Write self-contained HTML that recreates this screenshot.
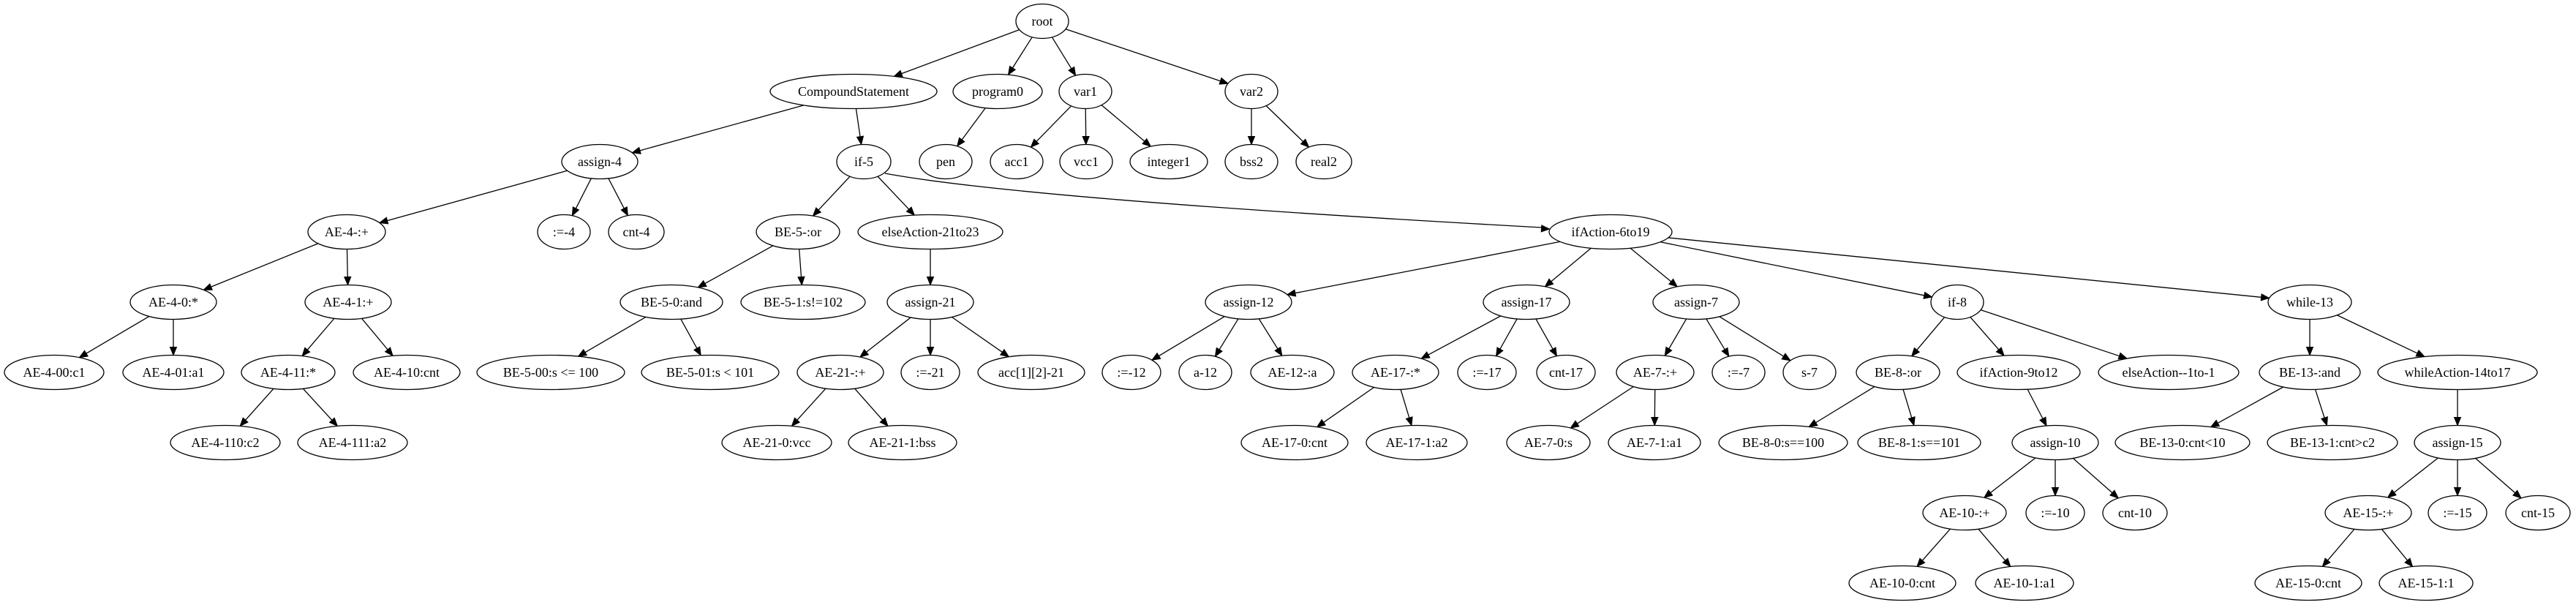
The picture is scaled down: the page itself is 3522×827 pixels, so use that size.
<!DOCTYPE html>
<html><head><meta charset="utf-8"><style>
html,body{margin:0;padding:0;background:#fff;}
svg{display:block;}
text{font-family:"Liberation Serif","Times New Roman",serif;font-size:18px;fill:#000;}
</style></head><body>
<svg id="g" xmlns="http://www.w3.org/2000/svg" width="3522" height="827" viewBox="0 0 3522 827">
<rect width="3522" height="827" fill="#fff"/>
<g id="edges" stroke="#000" stroke-width="1.3" fill="none"></g>
<g id="arrows" fill="#000" stroke="#000" stroke-width="1"></g>
<g id="nodes" fill="#fff" stroke="#000" stroke-width="1.3"></g>
<g id="labels" text-anchor="middle"></g>
</svg>
<script>
var Y=[29,125,221,317,413,509,605,701,797];
var N={
root:[1425,0,36,"root"],
CS:[1167,1,114,"CompoundStatement"],
program0:[1364,1,61,"program0"],
var1:[1484,1,36,"var1"],
var2:[1711,1,36,"var2"],
assign4:[820,2,52,"assign-4"],
if5:[1181,2,37,"if-5"],
pen:[1293,2,36,"pen"],
acc1:[1390,2,36,"acc1"],
vcc1:[1485,2,36,"vcc1"],
integer1:[1598,2,53,"integer1"],
bss2:[1711,2,36,"bss2"],
real2:[1810,2,38,"real2"],
AE4p:[474,3,53,"AE-4-:+"],
as4:[771,3,36,":=-4"],
cnt4:[870,3,38,"cnt-4"],
BE5or:[1091,3,57,"BE-5-:or"],
else21:[1272,3,99,"elseAction-21to23"],
ifA6:[2202,3,84,"ifAction-6to19"],
AE40:[237,4,59,"AE-4-0:*"],
AE41:[476,4,59,"AE-4-1:+"],
BE50:[918,4,70,"BE-5-0:and"],
BE51:[1098,4,85,"BE-5-1:s!=102"],
assign21:[1272,4,59,"assign-21"],
assign12:[1707,4,59,"assign-12"],
assign17:[2087,4,59,"assign-17"],
assign7:[2319,4,59,"assign-7"],
if8:[2676,4,36,"if-8"],
while13:[3158,4,57,"while-13"],
AE400:[74,5,68,"AE-4-00:c1"],
AE401:[237,5,69,"AE-4-01:a1"],
AE411:[394,5,64,"AE-4-11:*"],
AE410:[556,5,73,"AE-4-10:cnt"],
BE500:[753,5,101,"BE-5-00:s <= 100"],
BE501:[971,5,94,"BE-5-01:s < 101"],
AE21p:[1149,5,59,"AE-21-:+"],
as21:[1272,5,40,":=-21"],
acc21:[1410,5,73,"acc[1][2]-21"],
as12:[1547,5,40,":=-12"],
a12:[1648,5,36,"a-12"],
AE12:[1767,5,57,"AE-12-:a"],
AE17:[1908,5,59,"AE-17-:*"],
as17:[2033,5,40,":=-17"],
cnt17:[2141,5,40,"cnt-17"],
AE7:[2263,5,53,"AE-7-:+"],
as7:[2377,5,36,":=-7"],
s7:[2474,5,36,"s-7"],
BE8:[2595,5,57,"BE-8-:or"],
ifA9:[2760,5,84,"ifAction-9to12"],
else1:[2965,5,96,"elseAction--1to-1"],
BE13:[3158,5,69,"BE-13-:and"],
whileA:[3360,5,109,"whileAction-14to17"],
AE4110:[308,6,75,"AE-4-110:c2"],
AE4111:[482,6,75,"AE-4-111:a2"],
AE210:[1062,6,75,"AE-21-0:vcc"],
AE211:[1234,6,74,"AE-21-1:bss"],
AE170:[1770,6,73,"AE-17-0:cnt"],
AE171:[1937,6,69,"AE-17-1:a2"],
AE70:[2117,6,57,"AE-7-0:s"],
AE71:[2262,6,63,"AE-7-1:a1"],
BE80:[2438,6,88,"BE-8-0:s==100"],
BE81:[2624,6,84,"BE-8-1:s==101"],
assign10:[2810,6,59,"assign-10"],
BE130:[2984,6,92,"BE-13-0:cnt<10"],
BE131:[3189,6,89,"BE-13-1:cnt>c2"],
assign15:[3360,6,59,"assign-15"],
AE10:[2686,7,57,"AE-10-:+"],
as10:[2810,7,40,":=-10"],
cnt10:[2919,7,44,"cnt-10"],
AE15:[3238,7,59,"AE-15-:+"],
as15:[3360,7,40,":=-15"],
cnt15:[3470,7,44,"cnt-15"],
AE100:[2601,8,73,"AE-10-0:cnt"],
AE101:[2768,8,67,"AE-10-1:a1"],
AE150:[3156,8,73,"AE-15-0:cnt"],
AE151:[3317,8,64,"AE-15-1:1"]
};
var E={
root:["CS","program0","var1","var2"],program0:["pen"],var1:["acc1","vcc1","integer1"],var2:["bss2","real2"],
CS:["assign4","if5"],assign4:["AE4p","as4","cnt4"],AE4p:["AE40","AE41"],AE40:["AE400","AE401"],AE41:["AE411","AE410"],AE411:["AE4110","AE4111"],
if5:["BE5or","else21"],BE5or:["BE50","BE51"],BE50:["BE500","BE501"],else21:["assign21"],assign21:["AE21p","as21","acc21"],AE21p:["AE210","AE211"],
ifA6:["assign12","assign17","assign7","if8","while13"],assign12:["as12","a12","AE12"],assign17:["AE17","as17","cnt17"],AE17:["AE170","AE171"],
assign7:["AE7","as7","s7"],AE7:["AE70","AE71"],if8:["BE8","ifA9","else1"],BE8:["BE80","BE81"],ifA9:["assign10"],assign10:["AE10","as10","cnt10"],AE10:["AE100","AE101"],
while13:["BE13","whileA"],BE13:["BE130","BE131"],whileA:["assign15"],assign15:["AE15","as15","cnt15"],AE15:["AE150","AE151"]
};
var NS="http://www.w3.org/2000/svg",RY=23.5;
function el(t,a,p){var e=document.createElementNS(NS,t);for(var k in a)e.setAttribute(k,a[k]);document.getElementById(p).appendChild(e);return e;}
function bnd(n,dx,dy){var rx=n[2],t=1/Math.sqrt(dx*dx/(rx*rx)+dy*dy/(RY*RY));return t;}
function arrow(x,y,ux,uy){var L=11,W=4.5,bx=x-ux*L,by=y-uy*L;
el("polygon",{points:x+","+y+" "+(bx-uy*W)+","+(by+ux*W)+" "+(bx+uy*W)+","+(by-ux*W)},"arrows");}
for(var p in E){E[p].forEach(function(c){var a=N[p],b=N[c];var ax=a[0],ay=Y[a[1]],bx=b[0],by=Y[b[1]];
var dx=bx-ax,dy=by-ay,d=Math.sqrt(dx*dx+dy*dy),ux=dx/d,uy=dy/d;
var ta=bnd(a,dx,dy),tb=bnd(b,dx,dy);
var sx=ax+dx*ta,sy=ay+dy*ta,ex=bx-dx*tb,ey=by-dy*tb;
el("line",{x1:sx,y1:sy,x2:ex-ux*10,y2:ey-uy*10},"edges");arrow(ex,ey,ux,uy);});}
// curved edge if-5 -> ifAction-6to19
el("path",{d:"M1210,237 Q1400,272 2108,311"},"edges");
(function(){var ux=2118-1400,uy=313-272,d=Math.sqrt(ux*ux+uy*uy);arrow(2118.5,313,ux/d,uy/d);})();
for(var k in N){var n=N[k],y=Y[n[1]];el("ellipse",{cx:n[0],cy:y,rx:n[2],ry:RY},"nodes");
var t=el("text",{x:n[0],y:y+6},"labels");t.textContent=n[3];}
</script>
</body></html>
